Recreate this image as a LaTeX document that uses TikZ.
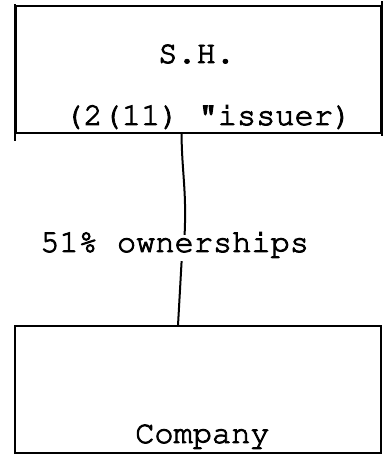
\documentclass[tikz,border=0pt]{standalone}
\usepackage[T1]{fontenc}
\usepackage{courier}
% typewriter strokes: fill the glyphs and stroke their outlines a little
\newcommand{\inked}[1]{\special{pdf:literal 2 Tr 0.9 w}#1\special{pdf:literal 0 Tr}}
\begin{document}
\begin{tikzpicture}[x=1pt,y=1pt,
  box/.style={draw, line width=1.3pt, minimum width=365pt, inner sep=0pt},
  side/.style={line width=2pt},
  lab/.style={font=\ttfamily\fontsize{32}{32}\selectfont, inner sep=0pt, anchor=base west},
  link/.style={line width=2pt}]
\useasboundingbox (0,0) rectangle (386,454);
% the two boxes
\node[box, minimum height=127pt] (sh) at (198.5,384.5) {};
\node[box, minimum height=127pt] (co) at (198,64.5) {};
% slightly overshooting vertical sides
\draw[side] ([yshift=1pt]sh.north west) -- ([yshift=-7pt]sh.south west);
\draw[side] ([yshift=4pt]sh.north east) -- ([yshift=-2pt]sh.south east);
\draw[side] (co.north west) -- ([yshift=-1pt]co.south west);
\draw[side] (co.north east) -- ([yshift=-1pt]co.south east);
% texts
\node[lab] (shname) at (158,391) {\inked{S.H.}};
\node[lab] (shnote) at (64,329) {\inked{(2(11) "issuer)}};
\node[lab] (coname) at (135,11) {\inked{Company}};
\node[lab, text height=17pt, text depth=9pt] (own) at (40,202) {\inked{51\% ownerships}};
% ownership link, broken by the label
\draw[link] ([xshift=-17pt]sh.south) .. controls ([xshift=-16.5pt,yshift=-40pt]sh.south) and ([xshift=12pt,yshift=45pt]own.north) .. ([xshift=10pt]own.north);
\draw[link] ([xshift=7pt]own.south) -- ([xshift=-20pt]co.north);
\end{tikzpicture}
\end{document}
